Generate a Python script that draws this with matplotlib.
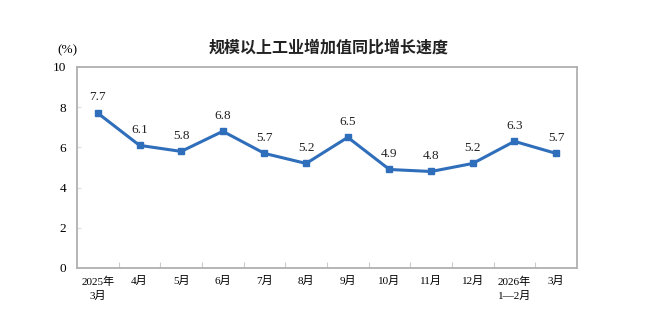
import matplotlib
matplotlib.use("Agg")
import matplotlib.pyplot as plt
import numpy as np

months = ["2025年\n3月", "4月", "5月", "6月", "7月", "8月", "9月",
          "10月", "11月", "12月", "2026年\n1—2月", "3月"]
growth = [7.7, 6.1, 5.8, 6.8, 5.7, 5.2, 6.5, 4.9, 4.8, 5.2, 6.3, 5.7]
y_ticks = [0, 2, 4, 6, 8, 10]

serif = ["Liberation Serif", "Noto Sans CJK SC", "DejaVu Sans"]
plt.rcParams["font.family"] = serif

fig = plt.figure(figsize=(6.5, 3.3), dpi=100)
ax = fig.add_axes([0.1185, 0.188, 0.769, 0.609])

x = np.arange(len(months))
line_color = "#2F6EBA"
ax.plot(x, growth, color=line_color, lw=2.2, marker="s", ms=4.2,
        markerfacecolor=line_color, markeredgecolor=line_color, zorder=3)

for xi, v in zip(x, growth):
    ax.annotate(f"{v:.1f}", (xi, v), xytext=(0, 7), textcoords="offset points",
                ha="center", va="bottom", fontsize=9.5, color="#222222",
                family=serif)

ax.set_xlim(-0.5, len(months) - 0.5)
ax.set_ylim(0, 10)
ax.set_yticks(y_ticks)
ax.set_yticklabels([str(t) for t in y_ticks], fontsize=9.5, family=serif)

# category labels centred in each slot, tick marks on slot boundaries
ax.set_xticks(x)
ax.set_xticklabels(months, fontsize=8, family=serif, linespacing=1.5)
ax.tick_params(axis="x", which="major", length=0, pad=6)
ax.set_xticks(np.arange(0.5, len(months) - 0.5, 1), minor=True)
ax.tick_params(axis="x", which="minor", direction="in", length=4,
               color="#cccccc", width=0.8)
ax.tick_params(axis="y", direction="in", length=3, color="#dddddd",
               width=0.8, pad=8)

for side in ["left", "right", "top", "bottom"]:
    ax.spines[side].set_color("#b0b0b0")
    ax.spines[side].set_linewidth(1.3)

fig.text(0.103, 0.848, "(%)", fontsize=9.5, ha="center", va="center",
         family=serif)
fig.text(0.505, 0.857, "规模以上工业增加值同比增长速度", fontsize=11.5,
         ha="center", va="center", family=["Noto Sans CJK SC", "DejaVu Sans"],
         fontweight="bold", color="#222222")

fig.savefig("out.png", dpi=100)
